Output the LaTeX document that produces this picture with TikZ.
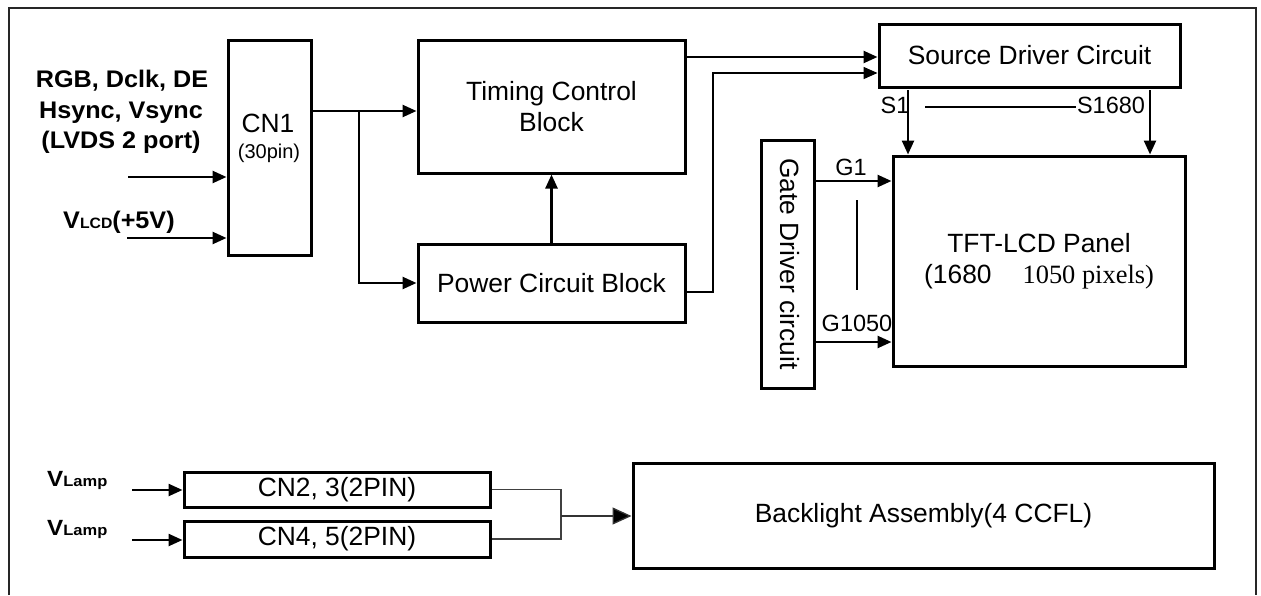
\documentclass[tikz,border=0pt]{standalone}
\usepackage{fontspec}
\usepackage{graphicx}
\setmainfont{Liberation Sans}
\newfontfamily\tnrfont{Liberation Serif}
\usetikzlibrary{arrows.meta}
\begin{document}
\begin{tikzpicture}[x=1pt,y=-1pt,
  box/.style={draw, line width=3pt, inner sep=0pt, align=center,
              font=\fontsize{26.4}{31}\selectfont},
  wire/.style={line width=2.5pt, -{Triangle[length=14pt,width=12pt]}},
  thinwire/.style={line width=1.6pt, -{Triangle[length=14pt,width=12pt]}},
  brwire/.style={line width=1.2pt, draw=black!75},
  bigtip/.style={line width=1.3pt, draw=black!80, -{Triangle[length=19pt,width=17pt,fill=black]}},
  frameline/.style={line width=2.5pt, draw=black!85},
  boldlbl/.style={inner sep=0pt, font=\bfseries\fontsize{24}{28}\selectfont},
  sig/.style={inner sep=0pt, font=\fontsize{23.5}{26}\selectfont},
  txt/.style={inner sep=0pt, font=\fontsize{26.4}{31}\selectfont}
]
\useasboundingbox (0,0) rectangle (1261,595);
% frame (open at the bottom)
\coordinate (f1) at (9,595);
\coordinate (f2) at (9,8);
\coordinate (f3) at (1256,8);
\coordinate (f4) at (1256,595);
\draw[frameline] (f1) -- (f2) -- (f3) -- (f4);

% boxes
\node[box, minimum width=83pt, minimum height=215pt] (cn1) at (269.5,147.5) {};
\node[txt, anchor=base] (cn1a) at (268,132) {CN1};
\node[inner sep=0pt, font=\fontsize{20}{22}\selectfont, anchor=base] (cn1b) at (269,158) {(30pin)};

\node[box, minimum width=267pt, minimum height=133pt] (timing) at (551.5,106.5) {Timing Control\\Block};
\node[box, minimum width=267pt, minimum height=78pt] (power) at (551.5,283) {Power Circuit Block};
\node[box, minimum width=301pt, minimum height=63pt] (source) at (1029.5,55.5) {Source Driver Circuit};
\node[box, minimum width=53pt, minimum height=248pt] (gate) at (787.5,264) {};
\node[txt, rotate=-90] (gatet) at (790,264) {Gate Driver circuit};
\node[box, minimum width=292pt, minimum height=210pt] (panel) at (1039,261)
  {TFT-LCD Panel\\(1680\hspace{31pt}{\tnrfont 1050 pixels)}};

\node[box, minimum width=306pt, minimum height=35pt] (cn2) at (337,489.5) {CN2, 3(2PIN)};
\node[box, minimum width=306pt, minimum height=36pt] (cn4) at (337,539) {CN4, 5(2PIN)};
\node[box, minimum width=581pt, minimum height=105pt] (bl) at (923.5,515.5) {Backlight Assembly(4 CCFL)};

% input labels
\node[boldlbl, anchor=base] (l1) at (122,87) {\scalebox{1.05}[1]{RGB, Dclk, DE}};
\node[boldlbl, anchor=base] (l2) at (121,118) {\scalebox{1.05}[1]{Hsync, Vsync}};
\node[boldlbl, anchor=base] (l3) at (121,148) {\scalebox{1.05}[1]{(LVDS 2 port)}};
\node[boldlbl, anchor=base west] (lcd) at (63,228) {\scalebox{1.05}[1]{V{\fontsize{15}{15}\selectfont LCD}(+5V)}};
\node[inner sep=0pt, font=\bfseries\fontsize{22}{24}\selectfont, anchor=base west] (vl1) at (47,486)
  {\scalebox{1.1}[1]{V{\fontsize{15}{15}\selectfont Lamp}}};
\node[inner sep=0pt, font=\bfseries\fontsize{22}{24}\selectfont, anchor=base west] (vl2) at (47,535)
  {\scalebox{1.1}[1]{V{\fontsize{15}{15}\selectfont Lamp}}};

% input arrows
\coordinate (in1) at (128,177);
\coordinate (in2) at (127,238);
\draw[wire] (in1) -- (in1 -| cn1.west);
\draw[wire] (in2) -- (in2 -| cn1.west);

% CN1 outputs
\coordinate (j1) at (359,111);
\draw[wire] (cn1.east |- j1) -- (timing.west |- j1);
\draw[wire] (j1) |- (power.west);
\draw[wire] (power.north) -- (timing.south);

% to source driver
\coordinate (ts) at (700,57);
\draw[wire] (timing.east |- ts) -- (source.west |- ts);
\coordinate (pb) at (713,292);
\coordinate (pt) at (713,73);
\draw[thinwire] (power.east |- pb) -- (pb) -- (pt) -- (source.west |- pt);

% source lines
\coordinate (s1) at (908,90);
\coordinate (s2) at (1150,90);
\draw[wire] (s1) -- (s1 |- panel.north);
\draw[wire] (s2) -- (s2 |- panel.north);
\node[sig, anchor=base] (s1l) at (895,113) {S1};
\node[sig, anchor=base] (s2l) at (1111,113) {S1680};
\coordinate (sd1) at (925,107);
\coordinate (sd2) at (1076,107);
\draw[line width=1.8pt] (sd1) -- (sd2);

% gate lines
\coordinate (g1) at (850,181);
\coordinate (g2) at (850,342);
\draw[wire] (gate.east |- g1) -- (panel.west |- g1);
\draw[wire] (gate.east |- g2) -- (panel.west |- g2);
\node[sig, anchor=base] (g1l) at (851,175) {G1};
\node[sig, anchor=base] (g2l) at (857,331) {G1050};
\coordinate (gd1) at (857,200);
\coordinate (gd2) at (857,290);
\draw[line width=2pt] (gd1) -- (gd2);

% backlight section
\coordinate (v1) at (132,490);
\coordinate (v2) at (132,540);
\draw[wire] (v1) -- (v1 -| cn2.west);
\draw[wire] (v2) -- (v2 -| cn4.west);
\coordinate (bj) at (561,516);
\draw[brwire] (cn2.east) -| (bj) |- (cn4.east);
\draw[bigtip] (bj) -- (bj -| bl.west);
\end{tikzpicture}
\end{document}
